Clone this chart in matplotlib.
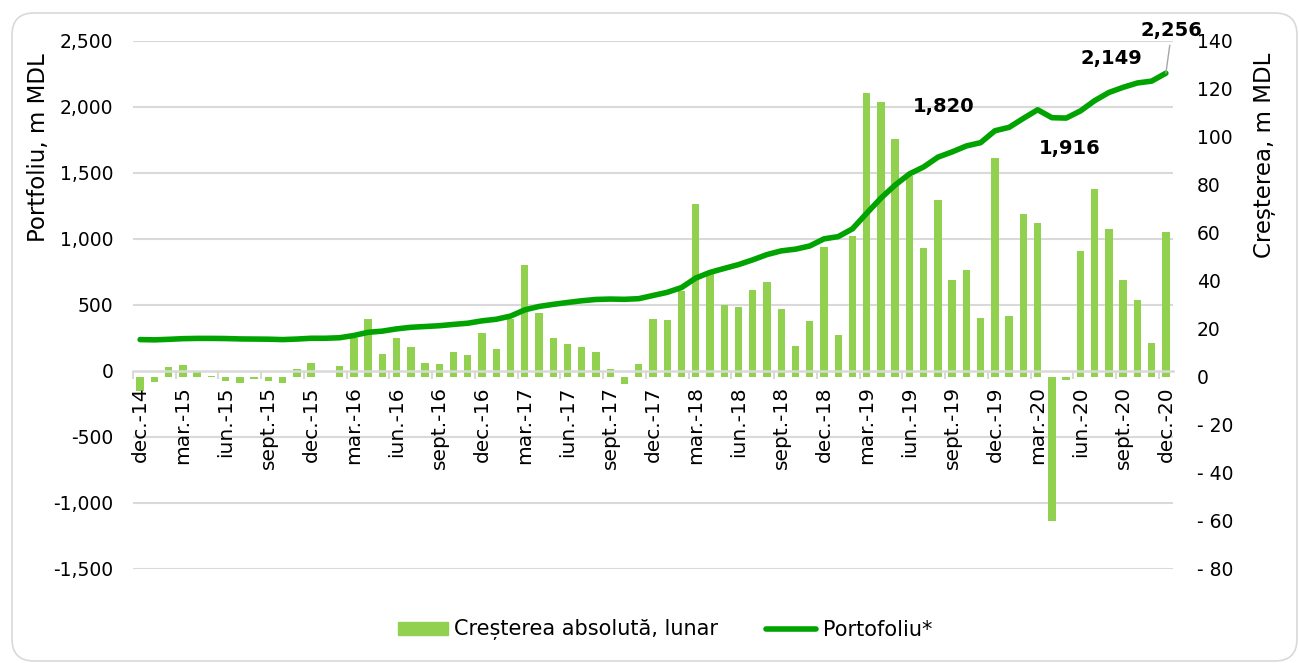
import numpy as np
import matplotlib
matplotlib.use("Agg")
import matplotlib.pyplot as plt
from matplotlib.patches import FancyBboxPatch, Patch
from matplotlib.lines import Line2D
from matplotlib.transforms import IdentityTransform, blended_transform_factory
from matplotlib.ticker import FuncFormatter

plt.rcParams['font.family'] = ['DejaVu Sans']

# monthly data dec.-14 .. dec.-20, m MDL
growth = [-6, -2, 4, 5, 2, 0.5, -1.5, -2.7, -0.8, -1.5, -2.7, 3.3, 6, 0.2, 4.4,
          16.4, 24.2, 9.4, 16.4, 12.5, 5.8, 5.6, 10.4, 9, 18.2, 11.8, 24, 46.7,
          26.5, 16.4, 13.6, 12.5, 10.6, 3.2, -2.8, 5.6, 24, 23.6, 36, 72.2, 42.9,
          30.1, 29, 36.4, 39.7, 28.3, 13, 23.5, 54, 17.4, 58.7, 118.4, 114.5,
          99.3, 83.6, 53.6, 73.8, 40.3, 44.7, 24.5, 91.4, 25.3, 68.1, 64.3, -60,
          -1.3, 52.5, 78.2, 61.7, 40.3, 32.2, 14, 60.3]
portfolio = [238, 236, 240, 245, 247, 247, 246, 243, 242, 241, 238, 242, 248, 248,
             252, 269, 293, 302, 319, 331, 337, 343, 353, 362, 380, 392, 416, 463,
             489, 505, 519, 532, 542, 545, 543, 548, 572, 596, 632, 704, 747, 777,
             806, 842, 882, 910, 923, 947, 1001, 1018, 1077, 1195, 1310, 1409,
             1493, 1546, 1620, 1660, 1705, 1730, 1820, 1846, 1914, 1979, 1919,
             1916, 1970, 2048, 2110, 2149, 2182, 2196, 2256]
tick_labels = ['dec.-14', 'mar.-15', 'iun.-15', 'sept.-15', 'dec.-15', 'mar.-16',
               'iun.-16', 'sept.-16', 'dec.-16', 'mar.-17', 'iun.-17', 'sept.-17',
               'dec.-17', 'mar.-18', 'iun.-18', 'sept.-18', 'dec.-18', 'mar.-19',
               'iun.-19', 'sept.-19', 'dec.-19', 'mar.-20', 'iun.-20', 'sept.-20',
               'dec.-20']
# labelled points: (month index, text)
labelled = [(60, '1,820'), (65, '1,916'), (69, '2,149'), (72, '2,256')]

BAR = '#92d050'
LINE = '#00a300'
GRID = '#d9d9d9'

W, H = 1299, 663
fig = plt.figure(figsize=(W / 100, H / 100), dpi=100)
fig.add_artist(FancyBboxPatch((12, 2), 1285, 648, boxstyle='round,pad=0,rounding_size=22',
                              transform=IdentityTransform(), fc='none', ec=GRID, lw=1.2))

ax = fig.add_axes([133 / W, 1 - 569 / H, (1173 - 133) / W, (569 - 41) / H])
ax2 = ax.twinx()
ax.set_zorder(2)
ax.patch.set_visible(False)
ax2.set_zorder(1)

x = np.arange(len(growth))

# gridlines for the left scale, drawn under the bars
yticks = np.arange(-1500, 2501, 500)
gtr = blended_transform_factory(ax2.transAxes, ax.transData)
for y in yticks:
    if y != 0:
        ax2.plot([0, 1], [y, y], transform=gtr, color=GRID, lw=1.5, zorder=0)

ax2.bar(x, growth, width=0.52, color=BAR, zorder=2)
ax.plot(x, portfolio, color=LINE, lw=4, solid_capstyle='round', solid_joinstyle='round')

ax.set_xlim(-0.5, len(growth) - 0.5)
ax.set_ylim(-1500, 2500)
ax2.set_ylim(-80, 140)
ax.set_yticks(yticks)
ax2.set_yticks(np.arange(-80, 141, 20))
ax.yaxis.set_major_formatter(FuncFormatter(lambda v, p: f'{v:,.0f}'))
ax2.yaxis.set_major_formatter(FuncFormatter(
    lambda v, p: '0' if v == 0 else (f'{v:.0f}' if v > 0 else f'- {abs(v):.0f}')))

for a in (ax, ax2):
    for s in ('top', 'left', 'right', 'bottom'):
        a.spines[s].set_visible(False)
ax.spines['bottom'].set_visible(True)
ax.spines['bottom'].set_position(('data', 0))
ax.spines['bottom'].set_color(GRID)
ax.spines['bottom'].set_linewidth(1.8)

ax.tick_params(axis='y', length=0, pad=14, labelsize=13.5)
ax2.tick_params(axis='y', length=0, pad=17, labelsize=13.5)
for t in ax2.get_yticklabels():
    t.set_horizontalalignment('left')

ax.set_xticks(np.arange(-0.5, len(growth) - 1, 3))
ax.set_xticklabels([])
ax.tick_params(axis='x', which='major', length=6, width=1.5, color=GRID)
ax.set_xticks(np.arange(0, len(growth), 3), minor=True)
ax.set_xticklabels(tick_labels, minor=True, rotation=90, fontsize=14.5)
ax.tick_params(axis='x', which='minor', length=0, pad=11)
ax2.tick_params(axis='x', length=0, labelbottom=False)

fig.text(39 / W, 1 - 148 / H, 'Portfoliu, m MDL', rotation=90, ha='center', va='center', fontsize=16.5)
fig.text(1265 / W, 1 - 155 / H, 'Creșterea, m MDL', rotation=90, ha='center', va='center', fontsize=16.5)

offsets = {60: (-51, 24), 65: (4, -30), 69: (-12, 29), 72: (6, 43)}
for i, txt in labelled:
    dx, dy = offsets[i]
    if i == 72:
        ax.annotate(txt, xy=(x[i], portfolio[i]), xytext=(dx, dy), textcoords='offset pixels',
                    ha='center', va='center', fontsize=14, fontweight='bold',
                    arrowprops=dict(arrowstyle='-', color='#a6a6a6', lw=1, shrinkA=2, shrinkB=0))
    else:
        ax.annotate(txt, xy=(x[i], portfolio[i]), xytext=(dx, dy), textcoords='offset pixels',
                    ha='center', va='center', fontsize=14, fontweight='bold')

handles = [Patch(color=BAR), Line2D([], [], color=LINE, lw=4, solid_capstyle='round')]
fig.legend(handles, ['Creșterea absolută, lunar', 'Portofoliu*'], loc='center',
           bbox_to_anchor=(665 / W, 1 - 630 / H), ncol=2, frameon=False, fontsize=15,
           handlelength=2.4, handleheight=0.6, handletextpad=0.3, columnspacing=2.3,
           borderpad=0)

fig.savefig('out.png', dpi=100)
